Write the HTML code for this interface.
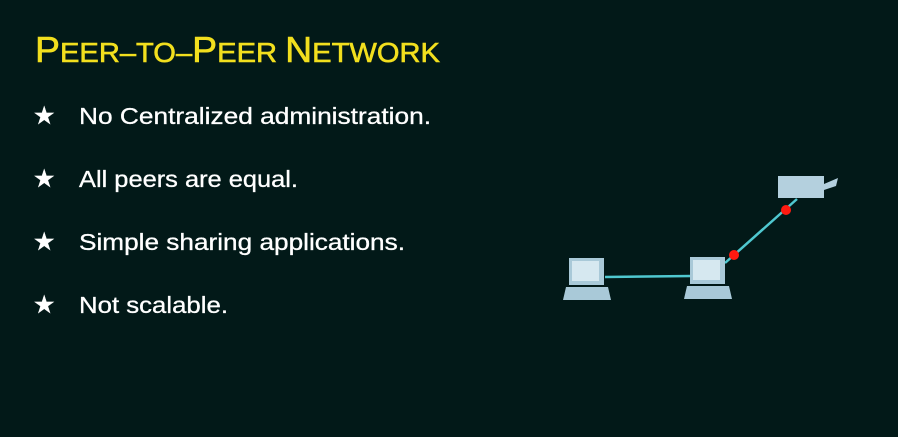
<!DOCTYPE html>
<html><head><meta charset="utf-8"><style>
html,body{margin:0;padding:0;background:#021918;}
svg{display:block;}
</style></head><body>
<svg width="898" height="437" viewBox="0 0 898 437" xmlns="http://www.w3.org/2000/svg">
<rect width="898" height="437" fill="#021918"/>
<text x="35" y="62" fill="#f2df1e" font-family="Liberation Sans, sans-serif" font-size="36" stroke="#f2df1e" stroke-width="0.6" textLength="405" lengthAdjust="spacingAndGlyphs">P<tspan font-size="28">EER–TO–</tspan>P<tspan font-size="28">EER </tspan>N<tspan font-size="28">ETWORK</tspan></text>
<g fill="#ffffff" font-family="Liberation Sans, sans-serif" font-size="23" stroke="#ffffff" stroke-width="0.3">
<text x="33" y="124" font-size="25">★</text><text x="79" y="124" textLength="352" lengthAdjust="spacingAndGlyphs">No Centralized administration.</text>
<text x="33" y="187" font-size="25">★</text><text x="79" y="187" textLength="219" lengthAdjust="spacingAndGlyphs">All peers are equal.</text>
<text x="33" y="250" font-size="25">★</text><text x="79" y="250" textLength="326" lengthAdjust="spacingAndGlyphs">Simple sharing applications.</text>
<text x="33" y="313" font-size="25">★</text><text x="79" y="313" textLength="149" lengthAdjust="spacingAndGlyphs">Not scalable.</text>
</g>
<g stroke="#4fc8d0" stroke-width="2.5" fill="none">
<line x1="605" y1="277" x2="692" y2="276"/>
<line x1="725" y1="263" x2="797" y2="199"/>
</g>
<g>
<rect x="569" y="258" width="35" height="27" fill="#a9c9d8"/>
<rect x="572" y="261" width="27" height="20" fill="#d6e8f0"/>
<path d="M566 287 L608 287 L611 300 L563 300 Z" fill="#a9c9d8"/>
<rect x="690" y="257" width="35" height="27" fill="#a9c9d8"/>
<rect x="693" y="260" width="27" height="20" fill="#d6e8f0"/>
<path d="M687 286 L729 286 L732 299 L684 299 Z" fill="#a9c9d8"/>
<rect x="778" y="176" width="46" height="22" fill="#b4d0de"/>
<path d="M824 184 L838 178 L836 186 L824 190 Z" fill="#b4d0de"/>
</g>
<circle cx="734" cy="255" r="5" fill="#ff1a10"/>
<circle cx="786" cy="210" r="5" fill="#ff1a10"/>
</svg>
</body></html>
